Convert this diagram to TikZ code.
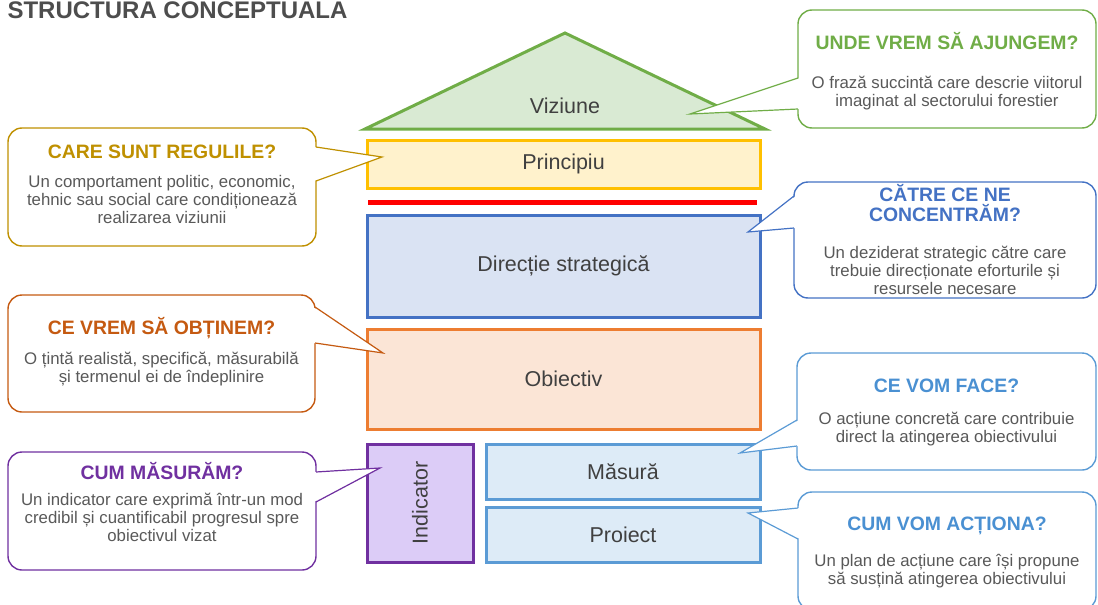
\documentclass[tikz,border=0pt]{standalone}
\usepackage{fontspec}
\setmainfont{Liberation Sans}

\definecolor{verde}{RGB}{112,173,71}
\definecolor{verdef}{RGB}{217,234,211}
\definecolor{galben}{RGB}{255,192,0}
\definecolor{galbenf}{RGB}{255,242,204}
\definecolor{auriu}{RGB}{191,144,0}
\definecolor{albastru}{RGB}{68,114,196}
\definecolor{albastruf}{RGB}{218,227,243}
\definecolor{portocal}{RGB}{237,125,49}
\definecolor{portocalf}{RGB}{251,229,214}
\definecolor{portocald}{RGB}{197,90,17}
\definecolor{mov}{RGB}{112,48,160}
\definecolor{movf}{RGB}{220,204,247}
\definecolor{bleu}{RGB}{91,155,213}
\definecolor{bleuf}{RGB}{221,235,247}
\definecolor{bleud}{RGB}{74,144,210}
\definecolor{textgri}{RGB}{89,89,89}
\definecolor{textcasa}{RGB}{64,64,64}

\newcommand{\titlu}[2]{{\color{#1}\fontsize{19.4}{22}\selectfont\bfseries #2}}

\begin{document}
\begin{tikzpicture}[x=1pt,y=-1pt]
\tikzset{
  etaj/.style={draw=#1, line width=3pt, inner sep=0pt, text=textcasa, font=\fontsize{21.5}{24}\selectfont},
  bula/.style={draw=#1, line width=1.4pt, fill=white, rounded corners=14pt, inner sep=0pt},
  textbula/.style={inner sep=0pt, align=center, text=textgri, font=\fontsize{16.8}{18}\selectfont},
  varf/.style={draw=#1, line width=1.2pt, line join=miter}
}
\useasboundingbox (0,0) rectangle (1098,605);

% titlul
\node[anchor=base west, text={rgb,255:red,77;green,77;blue,77}, font=\fontsize{24}{28}\selectfont\bfseries] (titlu) at (4,18.5) {STRUCTURA CONCEPTUALA};

% casa : acoperis si etaje
\coordinate (acs) at (365,129);
\coordinate (acv) at (565,33);
\coordinate (acd) at (765,129);
\draw[verde, fill=verdef, line width=3pt, line join=miter] (acs) -- (acv) -- (acd) -- cycle;
\node[text=textcasa, font=\fontsize{21.5}{24}\selectfont] (viziune) at (565,106) {Viziune};

\node[etaj=galben, fill=galbenf, minimum width=393pt, minimum height=48pt] (principiu) at (563.5,164) {Principiu};
\coordinate (rosus) at (368,202);
\coordinate (rosud) at (757,202);
\draw[red, line width=5pt] (rosus) -- (rosud);
\node[etaj=albastru, fill=albastruf, minimum width=393pt, minimum height=102pt] (directie) at (563.5,266) {Direcție strategică};
\node[etaj=portocal, fill=portocalf, minimum width=393pt, minimum height=100pt] (obiectiv) at (563.5,379) {Obiectiv};
\node[etaj=mov, fill=movf, rotate=90, minimum width=118pt, minimum height=106pt] (indicator) at (420,503) {Indicator};
\node[etaj=bleu, fill=bleuf, minimum width=274pt, minimum height=55pt] (masura) at (623,471.5) {Măsură};
\node[etaj=bleu, fill=bleuf, minimum width=274pt, minimum height=55pt] (proiect) at (623,534.5) {Proiect};

% bulele din dreapta
\node[bula=verde, minimum width=298pt, minimum height=118pt] (qvis) at (947,69) {};
\node[textbula] (tvis) at ([yshift=-2pt]qvis.center)
  {\titlu{verde}{UNDE VREM SĂ AJUNGEM?}\\[21pt] O frază succintă care descrie viitorul\\ imaginat al sectorului forestier};
\node[bula=albastru, minimum width=302pt, minimum height=116pt] (qdir) at (945,240) {};
\node[textbula] (tdir) at (qdir.center)
  {\titlu{albastru}{CĂTRE CE NE}\\[2pt]\titlu{albastru}{CONCENTRĂM?}\\[19pt] Un deziderat strategic către care\\ trebuie direcționate eforturile și\\ resursele necesare};
\node[bula=bleu, minimum width=299pt, minimum height=117pt] (qmas) at (946.5,411.5) {};
\node[textbula] (tmas) at ([yshift=-1pt]qmas.center)
  {\titlu{bleud}{CE VOM FACE?}\\[14pt] O acțiune concretă care contribuie\\ direct la atingerea obiectivului};
\node[bula=bleu, minimum width=298pt, minimum height=118pt] (qpro) at (947,551) {};
\node[textbula] (tpro) at ([yshift=-2pt]qpro.center)
  {\titlu{bleud}{CUM VOM ACȚIONA?}\\[18pt] Un plan de acțiune care își propune\\ să susțină atingerea obiectivului};

% bulele din stanga
\node[bula=auriu, minimum width=308pt, minimum height=118pt] (qpri) at (162,187) {};
\node[textbula] (tpri) at ([yshift=3pt]qpri.center)
  {\titlu{auriu}{CARE SUNT REGULILE?}\\[11pt] Un comportament politic, economic,\\ tehnic sau social care condiționează\\ realizarea viziunii};
\node[bula=portocald, minimum width=307pt, minimum height=117pt] (qobi) at (161.5,353.5) {};
\node[textbula] (tobi) at ([yshift=2pt]qobi.center)
  {\titlu{portocald}{CE VREM SĂ OBȚINEM?}\\[12pt] O țintă realistă, specifică, măsurabilă\\ și termenul ei de îndeplinire};
\node[bula=mov, minimum width=308pt, minimum height=118pt] (qind) at (162,511) {};
\node[textbula] (tind) at ([yshift=9pt]qind.center)
  {\titlu{mov}{CUM MĂSURĂM?}\\[8pt] Un indicator care exprimă într-un mod\\ credibil și cuantificabil progresul spre\\ obiectivul vizat};

% varfurile bulelor
\coordinate (vis1) at (798,78);  \coordinate (vist) at (690,114); \coordinate (vis2) at (798,109);
\coordinate (dir1) at (794,196); \coordinate (dirt) at (748,232); \coordinate (dir2) at (794,228);
\coordinate (mas1) at (797,420); \coordinate (mast) at (740,453); \coordinate (mas2) at (797,446);
\coordinate (pro1) at (798,508); \coordinate (prot) at (748,513); \coordinate (pro2) at (798,539);
\coordinate (pri1) at (316,147); \coordinate (prit) at (382,157); \coordinate (pri2) at (316,181);
\coordinate (obi1) at (315,307); \coordinate (obit) at (383,353); \coordinate (obi2) at (315,343);
\coordinate (ind1) at (316,472); \coordinate (indt) at (380,468); \coordinate (ind2) at (316,502);

\fill[white] ([xshift=2pt]vis1) -- (vist) -- ([xshift=2pt]vis2) -- cycle;
\draw[varf=verde] (vis1) -- (vist) -- (vis2);
\fill[white] ([xshift=2pt]dir1) -- (dirt) -- ([xshift=2pt]dir2) -- cycle;
\draw[varf=albastru] (dir1) -- (dirt) -- (dir2);
\fill[white] ([xshift=2pt]mas1) -- (mast) -- ([xshift=2pt]mas2) -- cycle;
\draw[varf=bleu] (mas1) -- (mast) -- (mas2);
\fill[white] ([xshift=2pt]pro1) -- (prot) -- ([xshift=2pt]pro2) -- cycle;
\draw[varf=bleu] (pro1) -- (prot) -- (pro2);
\fill[white] ([xshift=-2pt]pri1) -- (prit) -- ([xshift=-2pt]pri2) -- cycle;
\draw[varf=auriu] (pri1) -- (prit) -- (pri2);
\fill[white] ([xshift=-2pt]obi1) -- (obit) -- ([xshift=-2pt]obi2) -- cycle;
\draw[varf=portocald] (obi1) -- (obit) -- (obi2);
\fill[white] ([xshift=-2pt]ind1) -- (indt) -- ([xshift=-2pt]ind2) -- cycle;
\draw[varf=mov] (ind1) -- (indt) -- (ind2);
\end{tikzpicture}
\end{document}
